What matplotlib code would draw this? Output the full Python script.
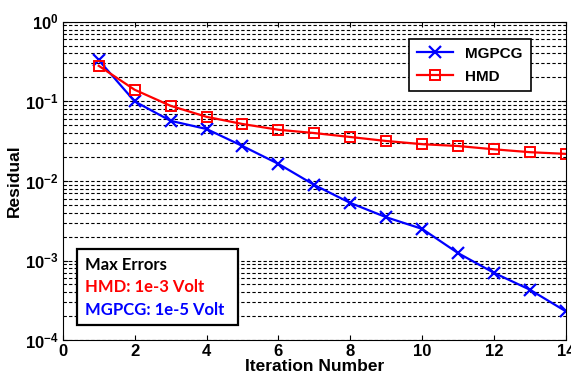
import numpy as np
import matplotlib.pyplot as plt
from matplotlib.patches import Rectangle
from matplotlib.ticker import LogLocator, FixedLocator, FixedFormatter, NullFormatter

iters = np.arange(1, 15)
mgpcg = [0.33, 0.10, 0.057, 0.045, 0.0275, 0.0164, 0.0089, 0.0053, 0.0035, 0.0025,
         0.00124, 0.0007, 0.00043, 0.00023]
hmd = [0.28, 0.14, 0.088, 0.064, 0.052, 0.044, 0.040, 0.0357, 0.0318, 0.029,
       0.0275, 0.025, 0.023, 0.0219]
xticks = [0, 2, 4, 6, 8, 10, 12, 14]
ydecades = [1e-4, 1e-3, 1e-2, 1e-1, 1e0]
ylabels = ['$10^{-4}$', '$10^{-3}$', '$10^{-2}$', '$10^{-1}$', '$10^{0}$']

plt.rcParams['mathtext.fontset'] = 'custom'
plt.rcParams['mathtext.rm'] = 'Liberation Sans:bold'
plt.rcParams['mathtext.it'] = 'Liberation Sans:bold'
plt.rcParams['mathtext.bf'] = 'Liberation Sans:bold'

fig = plt.figure(figsize=(5.71, 3.83), dpi=100)
ax = fig.add_axes([0.110, 0.112, 0.881, 0.831])

ax.semilogy(iters, mgpcg, 'b-x', lw=1.6, ms=8, mew=1.6, label='MGPCG')
ax.semilogy(iters, hmd, 'r-s', lw=1.6, ms=7, mew=1.4, mfc='none', label='HMD')

ax.set_xlim(0, 14)
ax.set_ylim(1e-4, 1)
ax.xaxis.set_major_locator(FixedLocator(xticks))
ax.yaxis.set_major_locator(FixedLocator(ydecades))
ax.yaxis.set_major_formatter(FixedFormatter(ylabels))
ax.yaxis.set_minor_locator(LogLocator(base=10, subs=np.arange(2, 10)))
ax.yaxis.set_minor_formatter(NullFormatter())
ax.grid(True, which='both', axis='y', ls='--', color='k', lw=0.8, dashes=(3, 2))

ax.tick_params(which='both', direction='in', top=True, right=True)
ax.tick_params(labelsize=12, pad=3)
for lab in ax.get_xticklabels():
    lab.set_family('Liberation Sans')
    lab.set_fontweight('bold')

ax.set_xlabel('Iteration Number', family='Liberation Sans', fontweight='bold',
              fontsize=12.5, labelpad=0)
ax.set_ylabel('Residual', family='Liberation Sans', fontweight='bold',
              fontsize=12.5, labelpad=2)

leg = ax.legend(loc='upper right', bbox_to_anchor=(0.945, 0.97),
                fancybox=False, edgecolor='k', framealpha=1,
                prop={'family': 'Liberation Sans', 'weight': 'bold', 'size': 11},
                handlelength=2.4, borderpad=0.5, labelspacing=0.6)
leg.get_frame().set_linewidth(1.2)

ax.add_patch(Rectangle((0.028, 0.047), 0.32, 0.239, transform=ax.transAxes,
                       fc='white', ec='k', lw=1.6, zorder=5))
ax.text(0.044, 0.236, 'Max Errors', transform=ax.transAxes, fontsize=12,
        family='Lato', fontweight='bold', color='black', va='center', zorder=6)
ax.text(0.044, 0.167, 'HMD: 1e-3 Volt', transform=ax.transAxes, fontsize=12,
        family='Lato', fontweight='bold', color='red', va='center', zorder=6)
ax.text(0.044, 0.094, 'MGPCG: 1e-5 Volt', transform=ax.transAxes, fontsize=12,
        family='Lato', fontweight='bold', color='blue', va='center', zorder=6)

fig.savefig('out.png', dpi=100)
